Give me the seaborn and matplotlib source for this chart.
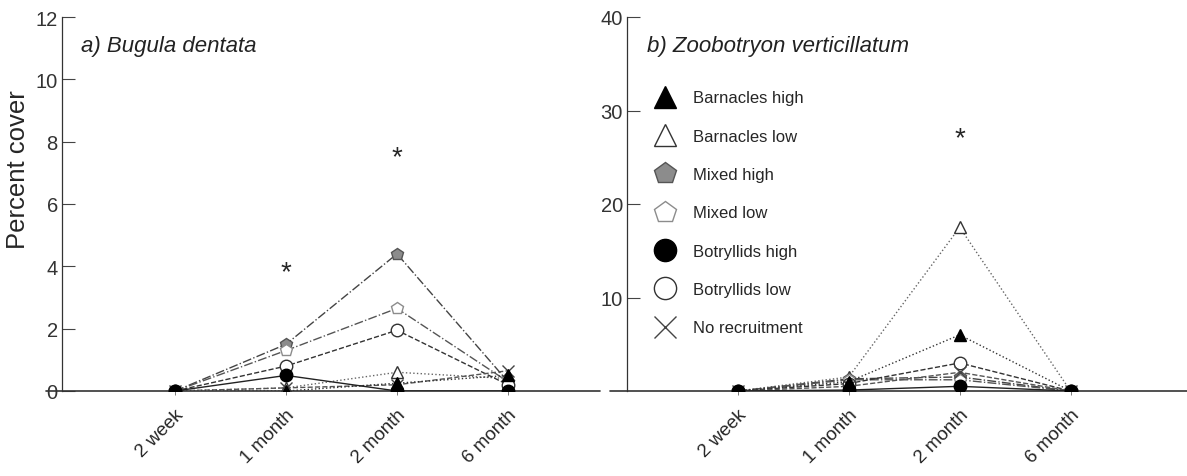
import numpy as np
import pandas as pd
import seaborn as sns
import matplotlib.pyplot as plt
from matplotlib.lines import Line2D

sns.set_style("white")
plt.rcParams['font.family'] = ['Liberation Sans', 'DejaVu Sans']

times = ["2 week", "1 month", "2 month", "6 month"]
treatments = ["Barnacles high", "Barnacles low", "Mixed high", "Mixed low",
              "Botryllids high", "Botryllids low", "No recruitment"]

# percent cover, a) Bugula dentata
bugula = {
    "Barnacles high":  [0, 0.0, 0.25, 0.5],
    "Barnacles low":   [0, 0.1, 0.6, 0.4],
    "Mixed high":      [0, 1.5, 4.4, 0.3],
    "Mixed low":       [0, 1.3, 2.65, 0.3],
    "Botryllids high": [0, 0.5, 0.0, 0.0],
    "Botryllids low":  [0, 0.8, 1.95, 0.2],
    "No recruitment":  [0, 0.1, 0.2, 0.65],
}
# percent cover, b) Zoobotryon verticillatum
zoob = {
    "Barnacles high":  [0, 1.0, 6.0, 0],
    "Barnacles low":   [0, 1.5, 17.5, 0],
    "Mixed high":      [0, 1.3, 1.5, 0],
    "Mixed low":       [0, 1.2, 1.2, 0],
    "Botryllids high": [0, 0.1, 0.5, 0],
    "Botryllids low":  [0, 0.8, 3.0, 0],
    "No recruitment":  [0, 0.5, 2.0, 0],
}
stars_a = [(1, 3.8), (2, 7.5)]
stars_b = [(2, 27)]

sty = {
    "Barnacles high":  dict(marker="^", mfc="black", mec="black", color="#333333", ls=":", z=4),
    "Barnacles low":   dict(marker="^", mfc="white", mec="#333333", color="#666666", ls=":", z=3),
    "Mixed high":      dict(marker="p", mfc="#8c8c8c", mec="#555555", color="#444444", ls="-.", z=3),
    "Mixed low":       dict(marker="p", mfc="white", mec="#8c8c8c", color="#555555", ls="-.", z=3),
    "Botryllids high": dict(marker="o", mfc="black", mec="black", color="#222222", ls="-", z=6),
    "Botryllids low":  dict(marker="o", mfc="white", mec="#333333", color="#333333", ls="--", z=3),
    "No recruitment":  dict(marker="x", mfc="none", mec="#444444", color="#555555", ls="--", z=3),
}

fig = plt.figure(figsize=(11.87, 4.77), dpi=100)
ax1 = fig.add_axes([62/1187, 85/477, 538/1187, 374/477])
ax2 = fig.add_axes([627/1187, 85/477, 560/1187, 374/477])

xs = np.arange(len(times))

def draw(ax, data, stars, ymax, ticks, ticklabels, title):
    for t in treatments:
        s = sty[t]
        df = pd.DataFrame({"time": xs, "cover": data[t]})
        sns.lineplot(data=df, x="time", y="cover", ax=ax, color=s["color"],
                     linestyle=s["ls"], linewidth=1.0, marker=s["marker"],
                     markersize=9, markerfacecolor=s["mfc"],
                     markeredgecolor=s["mec"], markeredgewidth=1.0,
                     zorder=s["z"])
    for x, y in stars:
        ax.text(x, y, "*", ha="center", va="center", fontsize=20)
    ax.set_ylim(0, ymax)
    ax.set_yticks(ticks)
    ax.set_yticklabels(ticklabels, fontsize=14.5, color="#333333")
    ax.set_xticks(xs)
    ax.set_xticklabels(times, rotation=45, ha="right", rotation_mode="anchor",
                       fontsize=13.5)
    ax.tick_params(axis="y", left=True, direction="in", length=9, width=0.8,
                   pad=3, color="#444444")
    ax.tick_params(axis="x", bottom=True, direction="out", length=3, width=0.6,
                   pad=8, color="#666666")
    for side in ["top", "right", "bottom"]:
        ax.spines[side].set_visible(False)
    ax.spines["left"].set_color("#333333")
    ax.spines["left"].set_linewidth(0.9)
    ax.axhline(0, xmin=-0.03, xmax=1, color="#333333", lw=1.2,
               clip_on=False, zorder=2)
    ax.set_xlabel("")
    ax.set_ylabel("")
    ax.text(0.035, 0.925, title, transform=ax.transAxes, fontsize=16,
            style="italic", va="center", ha="left", color="#222222")

draw(ax1, bugula, stars_a, 12, [0, 2, 4, 6, 8, 10, 12],
     ["0", "2", "4", "6", "8", "10", "12"], "a) Bugula dentata")
ax1.set_xlim(-1.02, 3.83)
ax1.set_ylabel("Percent cover", fontsize=18.5)
ax1.yaxis.set_label_coords(-0.06, 0.594)

draw(ax2, zoob, stars_b, 40, [10, 20, 30, 40], ["10", "20", "30", "40"],
     "b) Zoobotryon verticillatum")
ax2.set_xlim(-1.0, 4.05)

handles = []
for t in treatments:
    s = sty[t]
    handles.append(Line2D([], [], linestyle="none", marker=s["marker"],
                          markersize=16, markerfacecolor=s["mfc"],
                          markeredgecolor=s["mec"], markeredgewidth=1.0))
ax2.legend(handles, treatments, loc="upper left", bbox_to_anchor=(0.025, 0.835),
           frameon=False, fontsize=12, labelspacing=1.4, handletextpad=0.9,
           handlelength=1.5, borderaxespad=0.3)

fig.savefig("out.png", dpi=100)
